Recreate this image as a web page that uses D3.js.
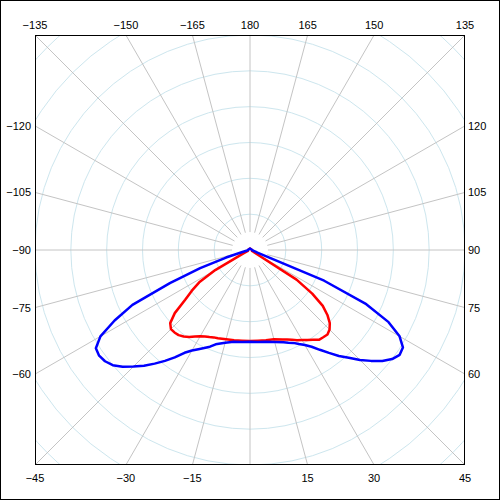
<!DOCTYPE html>
<html>
<head>
<meta charset="utf-8">
<script src="https://cdn.jsdelivr.net/npm/d3@7"></script>
<style>
  html, body { margin: 0; padding: 0; background: #fff; }
  svg { display: block; }
  text { font-family: "Liberation Sans", Arial, sans-serif; font-size: 11px; fill: #000; }
</style>
</head>
<body>
<script>
// Angles in degrees: 0 = straight down, positive to the right
const angles = [-180, -90, -85, -80, -75,
  -72.5, -70, -67.5, -65, -62.5, -60, -57.5, -55, -52.5, -50, -47.5, -45, -42.5, -40, -37.5, -35, -32.5, -30, -27.5, -25, -22.5, -20,
  -15, -10, -5, 0, 5, 10, 15,
  20, 22.5, 25, 27.5, 30, 32.5, 35, 37.5, 40, 42.5, 45, 47.5, 50, 52.5, 55, 57.5, 60, 62.5, 65, 67.5, 70, 72.5,
  75, 80, 85, 90];

const blueSeries = [2, 3, 3, 4, 11,
  35, 74, 121, 181, 213, 241, 255, 257, 255, 250, 241, 230, 219, 207, 195, 183, 170, 162, 156, 151, 146, 140,
  134, 130, 129, 128, 129, 130, 133,
  137, 140, 143, 148, 153, 160, 170, 181, 193, 204, 217, 229, 241, 250, 255, 253, 241, 218, 179, 112, 11, 8,
  6, 4, 3, 3];

const redSeries = [2, 3, 3, 3, 3,
  3, 3, 3, 4, 11, 56, 84, 99, 114, 137, 151, 156, 156, 155, 152, 148, 143, 139, 136, 134, 132, 131,
  129, 128, 127, 127, 127, 128, 129,
  133, 135, 138, 142, 145, 149, 153, 158, 159, 160, 157, 151, 141, 128, 106, 77, 7, 4, 3, 3, 3, 3,
  3, 3, 3, 3];

const spokeAngles = d3.range(-165, 181, 15);           // grid spokes
const labelAngles = spokeAngles.filter(a => a !== 0);  // 0 is not labelled
const ringValues = [50, 100, 150, 200, 250, 300, 350, 400];

const W = 500, H = 500, cx = 250, cy = 250, half = 215;

const svg = d3.select("body").append("svg").attr("width", W).attr("height", H);

svg.append("rect").attr("x", 0.5).attr("y", 0.5).attr("width", W - 1).attr("height", H - 1)
  .attr("fill", "#fff").attr("stroke", "#000");

const r = d3.scaleLinear().domain([0, 300]).range([0, half]);
const toRad = d => Math.PI - d * Math.PI / 180;

svg.append("clipPath").attr("id", "frameClip")
  .append("rect").attr("x", cx - half).attr("y", cy - half).attr("width", 2 * half).attr("height", 2 * half);

const g = svg.append("g").attr("transform", `translate(${cx},${cy})`);
const grid = g.append("g").attr("clip-path", "url(#frameClip)").attr("transform", `translate(${-cx},${-cy})`)
  .append("g").attr("transform", `translate(${cx},${cy})`);

grid.selectAll("circle.ring").data(ringValues).join("circle")
  .attr("r", d => r(d)).attr("fill", "none").attr("stroke", "#cde6ee").attr("stroke-width", 1);

grid.selectAll("line.spoke").data(spokeAngles).join("line")
  .attr("x1", d => r(25) * Math.sin(d * Math.PI / 180))
  .attr("y1", d => r(25) * Math.cos(d * Math.PI / 180))
  .attr("x2", d => r(450) * Math.sin(d * Math.PI / 180))
  .attr("y2", d => r(450) * Math.cos(d * Math.PI / 180))
  .attr("stroke", "#c4c4c4").attr("stroke-width", 1);

const line = d3.lineRadial()
  .angle((d, i) => toRad(angles[i]))
  .radius(d => r(d))
  .curve(d3.curveLinearClosed);

g.append("path").datum(redSeries).attr("d", line)
  .attr("fill", "none").attr("stroke", "#ff0000").attr("stroke-width", 2.5).attr("stroke-linejoin", "round");
g.append("path").datum(blueSeries).attr("d", line)
  .attr("fill", "none").attr("stroke", "#0000ff").attr("stroke-width", 2.5).attr("stroke-linejoin", "round");

// Frame
svg.append("rect").attr("x", cx - half + 0.5).attr("y", cy - half + 0.5)
  .attr("width", 2 * half - 1).attr("height", 2 * half - 1)
  .attr("fill", "none").attr("stroke", "#000").attr("stroke-width", 1);

// Angle labels
const fmt = a => a === 180 ? "180" : (a < 0 ? "\u2212" + Math.abs(a) : String(a));
labelAngles.forEach(a => {
  const s = Math.sin(a * Math.PI / 180), c = Math.cos(a * Math.PI / 180);
  const t = half / Math.max(Math.abs(s), Math.abs(c));
  const px = cx + t * s, py = cy + t * c;
  let x, y, anchor;
  if (Math.abs(c) >= Math.abs(s) - 1e-9) {
    x = px; anchor = "middle";
    y = c < 0 ? 29 : 482;
  } else {
    y = py + 4;
    if (s < 0) { x = 31; anchor = "end"; } else { x = 468; anchor = "start"; }
  }
  svg.append("text").attr("x", x).attr("y", y).attr("text-anchor", anchor).text(fmt(a));
});
</script>
</body>
</html>
